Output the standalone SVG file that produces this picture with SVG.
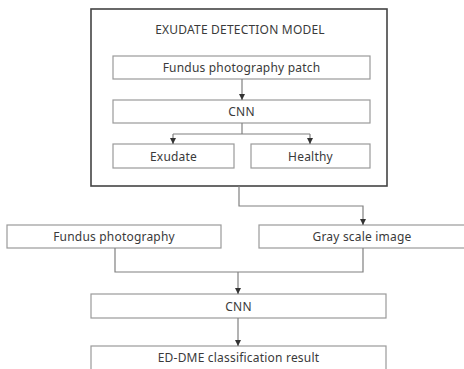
<svg xmlns="http://www.w3.org/2000/svg" width="464" height="369" viewBox="0 0 464 369">
<style>
.box{fill:#fff;stroke:#9a9a9a;stroke-width:1.2}
.outer{fill:#fff;stroke:#444;stroke-width:1.6}
.lbl{font-family:"Noto Sans","Open Sans",sans-serif;font-size:12px;fill:#3a3a3a;text-anchor:middle;letter-spacing:0.2px}
.ln{fill:none;stroke:#808080;stroke-width:1.2}
</style>
<defs>
<marker id="a" markerUnits="userSpaceOnUse" markerWidth="6" markerHeight="6" viewBox="0 0 6 6" refX="6" refY="3" orient="auto">
<path d="M0,0 L6,3 L0,6 Z" fill="#333"/>
</marker>
</defs>
<g id="exudate-detection-model">
<rect class="outer" x="91" y="9" width="296" height="177"/>
<text class="lbl" x="240" y="34">EXUDATE DETECTION MODEL</text>
</g>
<g id="patch">
<rect class="box" x="113" y="56" width="257" height="23"/>
<text class="lbl" x="241.5" y="72">Fundus photography patch</text>
</g>
<g id="cnn1">
<rect class="box" x="113" y="100" width="257" height="23"/>
<text class="lbl" x="241.5" y="116">CNN</text>
</g>
<g id="exudate">
<rect class="box" x="113" y="144" width="121" height="24"/>
<text class="lbl" x="173.5" y="160.5">Exudate</text>
</g>
<g id="healthy">
<rect class="box" x="251" y="144" width="119" height="24"/>
<text class="lbl" x="310.5" y="160.5">Healthy</text>
</g>
<g id="fundus">
<rect class="box" x="7" y="225" width="214" height="23"/>
<text class="lbl" x="114" y="241">Fundus photography</text>
</g>
<g id="gray">
<rect class="box" x="259" y="225" width="207" height="23"/>
<text class="lbl" x="362" y="241">Gray scale image</text>
</g>
<g id="cnn2">
<rect class="box" x="91" y="294" width="295" height="24"/>
<text class="lbl" x="238.5" y="310.5">CNN</text>
</g>
<g id="result">
<rect class="box" x="91" y="346" width="295" height="25"/>
<text class="lbl" x="238.5" y="362">ED-DME classification result</text>
</g>
<g id="connectors">
<path class="ln" d="M242,79 V100" marker-end="url(#a)"/>
<path class="ln" d="M242,123 V134"/>
<path class="ln" d="M173,134 H310"/>
<path class="ln" d="M173,134 V144" marker-end="url(#a)"/>
<path class="ln" d="M310,134 V144" marker-end="url(#a)"/>
<path class="ln" d="M239,186 V206 H363 V225" marker-end="url(#a)"/>
<path class="ln" d="M115,248 V272 H363 V248"/>
<path class="ln" d="M238,272 V294" marker-end="url(#a)"/>
<path class="ln" d="M238,318 V346" marker-end="url(#a)"/>
</g>
</svg>
